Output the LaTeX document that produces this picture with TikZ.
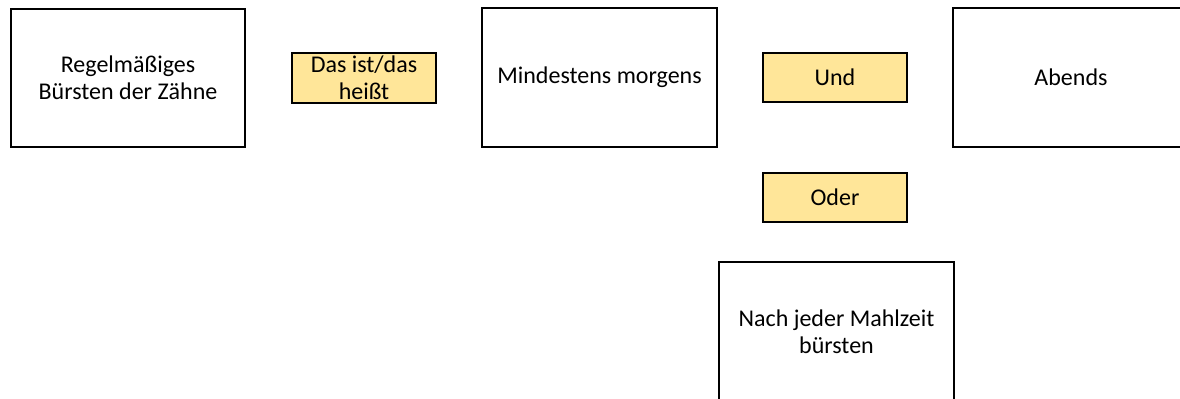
\documentclass[tikz,border=0pt]{standalone}
\usepackage{fontspec}
\setmainfont{Carlito}
\definecolor{gold}{HTML}{FFE699}
\begin{document}
\begin{tikzpicture}[x=0.75pt,y=-0.75pt,
  box/.style={draw=black,line width=1.1pt,fill=white,align=center,inner sep=0pt,
    font=\fontsize{18}{20.5}\selectfont},
  link/.style={draw=black,line width=1.1pt,fill=gold,align=center,inner sep=0pt,
    font=\fontsize{18}{20}\selectfont}]
\useasboundingbox (0,0) rectangle (1180,399);
\node[box,minimum width=234*0.75pt,minimum height=138*0.75pt] (b1) at (128,78) {Regelmäßiges\\Bürsten der Zähne};
\node[link,minimum width=144*0.75pt,minimum height=50*0.75pt] (l1) at (364,78) {Das ist/das\\heißt};
\node[box,minimum width=235*0.75pt,minimum height=139*0.75pt] (b2) at (599.5,77.5) {Mindestens morgens};
\node[link,minimum width=144*0.75pt,minimum height=49*0.75pt] (l2) at (835,77.5) {Und};
\node[box,minimum width=236*0.75pt,minimum height=139*0.75pt] (b3) at (1071,77.5) {Abends};
\node[link,minimum width=144*0.75pt,minimum height=49*0.75pt] (l3) at (835,197.5) {Oder};
\node[box,minimum width=235*0.75pt,minimum height=139*0.75pt] (b4) at (836.5,331.5) {Nach jeder Mahlzeit\\bürsten};
\end{tikzpicture}
\end{document}
